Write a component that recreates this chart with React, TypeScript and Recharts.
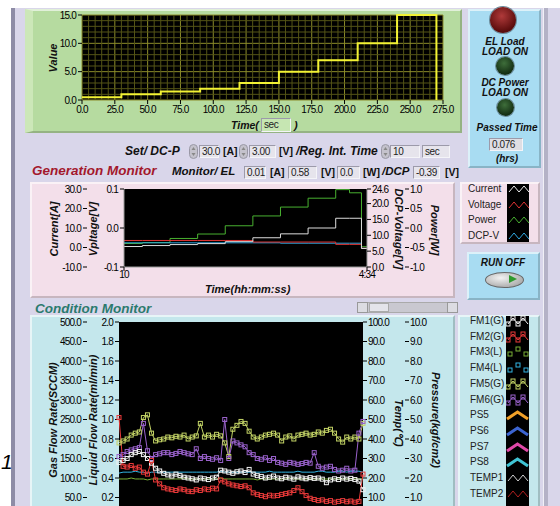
import React from 'react';
import { ComposedChart, Line, XAxis, YAxis, CartesianGrid, ReferenceLine } from 'recharts';

// ---- set-value chart (top) ----
const SET_TIME = [0, 30, 60, 90, 120, 150, 180, 210, 240, 270];
const SET_VALUE = [0.5, 1.0, 1.5, 2.0, 3.0, 5.0, 7.0, 10.0, 15.0, 0.0];
const SET_X_TICKS = [0, 25, 50, 75, 100, 125, 150, 175, 200, 225, 250, 275];
const SET_Y_TICKS = [0, 5, 10, 15];
// minor grid: every 5 s and every 1.0, skipping the major lines
const SET_X_MINOR = Array.from({ length: 56 }, (_, i) => i * 5).filter(v => v % 25 !== 0);
const SET_Y_MINOR = Array.from({ length: 16 }, (_, i) => i).filter(v => v % 5 !== 0);

// ---- generation monitor (middle) ----
const GEN_TIME = [10, 30, 60, 90, 120, 150, 180, 210, 240, 255, 268, 274];
const GEN_CURRENT = [0.5, 1.0, 1.5, 2.0, 3.0, 5.0, 7.0, 10.0, 15.0, 15.0, -0.5, -0.5];
const GEN_VOLTAGE = [-0.032, -0.032, -0.032, -0.032, -0.032, -0.036, -0.036, -0.036, -0.042, -0.042, -0.052, -0.052];
const GEN_POWER = [7.4, 7.7, 9.0, 10.4, 13.0, 16.1, 18.9, 21.7, 24.4, 23.4, 6.4, 6.4];
const GEN_DCPV = [-0.38, -0.38, -0.38, -0.38, -0.38, -0.38, -0.39, -0.39, -0.39, -0.39, -0.52, -0.52];
const CURRENT_TICKS = [-10, 0, 10, 20, 30];
const VOLTAGE_TICKS = [-0.1, 0, 0.1];
const POWER_TICKS = [0, 5, 10, 15, 20, 24.6];
const DCPV_TICKS = [-1, -0.5, 0, 0.5, 1];

// ---- condition monitor (bottom) ----
const FM1 = [140, 145, 150, 160, 165, 168, 160, 150, 138, 125, 118, 112, 108, 105, 110, 106, 102, 100, 98, 95,
  100, 98, 96, 100, 102, 120, 118, 115, 112, 116, 118, 114, 122, 110, 106, 104, 100, 102, 105, 100,
  98, 102, 100, 97, 103, 100, 98, 101, 99, 100, 97, 88, 95, 98, 96, 100, 97, 99, 96, 92, 70];
const FM2 = [255, 130, 128, 132, 125, 128, 115, 110, 145, 95, 85, 75, 72, 70, 68, 72, 70, 66, 65, 70,
  68, 72, 70, 74, 72, 95, 90, 85, 82, 80, 78, 80, 75, 62, 58, 55, 52, 56, 54, 55,
  58, 60, 62, 68, 75, 65, 55, 48, 45, 42, 44, 40, 42, 38, 40, 42, 39, 41, 38, 40, 110];
const FM3 = [0.39, 0.39, 0.39, 0.40, 0.39, 0.39, 0.39, 0.38, 0.39, 0.39, 0.39, 0.39, 0.39, 0.39, 0.39, 0.39, 0.40, 0.39, 0.39, 0.39,
  0.39, 0.39, 0.39, 0.39, 0.39, 0.40, 0.39, 0.39, 0.39, 0.39, 0.39, 0.39, 0.39, 0.39, 0.38, 0.39, 0.39, 0.39, 0.39, 0.39,
  0.39, 0.39, 0.40, 0.39, 0.39, 0.39, 0.39, 0.39, 0.39, 0.39, 0.39, 0.39, 0.39, 0.39, 0.39, 0.39, 0.39, 0.39, 0.39, 0.39, 0.39];
const FM4 = [0.45, 0.46, 0.46, 0.46, 0.47, 0.46, 0.46, 0.45, 0.46, 0.46, 0.46, 0.46, 0.46, 0.46, 0.46, 0.46, 0.46, 0.46, 0.46, 0.46,
  0.46, 0.46, 0.46, 0.46, 0.46, 0.47, 0.46, 0.46, 0.46, 0.46, 0.46, 0.46, 0.46, 0.46, 0.46, 0.46, 0.46, 0.47, 0.46, 0.46,
  0.46, 0.46, 0.46, 0.46, 0.47, 0.46, 0.46, 0.46, 0.46, 0.47, 0.47, 0.46, 0.46, 0.46, 0.47, 0.47, 0.46, 0.47, 0.47, 0.47, 0.46];
const FM5 = [190, 195, 200, 210, 215, 218, 255, 262, 215, 195, 198, 200, 205, 203, 207, 205, 210, 200, 205, 208,
  240, 205, 210, 205, 212, 208, 190, 155, 225, 235, 245, 240, 220, 205, 200, 205, 210, 212, 215, 210,
  195, 205, 208, 200, 210, 212, 215, 210, 212, 218, 215, 222, 225, 215, 200, 192, 205, 200, 205, 200, 240];
const FM6 = [155, 160, 168, 172, 175, 178, 240, 170, 150, 160, 162, 165, 165, 160, 163, 168, 165, 162, 160, 175,
  150, 155, 150, 148, 152, 145, 250, 150, 195, 190, 185, 180, 165, 160, 150, 148, 152, 145, 150, 140,
  138, 135, 140, 138, 135, 137, 140, 138, 165, 130, 125, 128, 130, 122, 118, 120, 125, 118, 120, 215, 245];
// the 0 ticks sit below the visible window, so only the visible ones are listed
const GAS_TICKS = [50, 100, 150, 200, 250, 300, 350, 400, 450, 500];
const LIQ_TICKS = [0.2, 0.4, 0.6, 0.8, 1.0, 1.2, 1.4, 1.6, 1.8, 2.0];
const TEMP_TICKS = [10, 20, 30, 40, 50, 60, 70, 80, 90, 100];
const PRES_TICKS = [1, 2, 3, 4, 5, 6, 7, 8, 9, 10];

const setData = SET_TIME.map((t, i) => ({ t, v: SET_VALUE[i] }));
const genData = GEN_TIME.map((t, i) => ({
  t, current: GEN_CURRENT[i], voltage: GEN_VOLTAGE[i], power: GEN_POWER[i], dcpv: GEN_DCPV[i],
}));
const condData = FM1.map((v, i) => ({
  i, fm1: v, fm2: FM2[i], fm3: FM3[i], fm4: FM4[i], fm5: FM5[i], fm6: FM6[i],
}));

const SANS = "'Liberation Sans', Arial, sans-serif";
const TICK = { fill: '#000', fontSize: 10, fontFamily: SANS, letterSpacing: -0.8 };
const f1 = (v: number) => v.toFixed(1);
const tickProps = { tick: TICK, tickSize: 4, interval: 0 as const, tickLine: { stroke: '#000' } };

const Box = ({ x, y, w, h, bg, style, children }: any) => (
  <div style={{ position: 'absolute', left: x, top: y, width: w, height: h, background: bg, boxSizing: 'border-box', ...style }}>
    {children}
  </div>
);

const Txt = ({ x, y, size = 11, bi = true, color = '#111', center = false, children, style }: any) => (
  <div style={{
    position: 'absolute', left: x, top: y, whiteSpace: 'nowrap', lineHeight: 1,
    fontSize: size, fontWeight: bi ? 700 : 400, fontStyle: bi ? 'italic' : 'normal', color,
    transform: center ? 'translate(-50%,-50%)' : 'translateY(-50%)', ...style,
  }}>{children}</div>
);

const RotTxt = ({ cx, cy, angle, size = 11, children }: any) => (
  <div style={{
    position: 'absolute', left: cx, top: cy, whiteSpace: 'nowrap', lineHeight: 1, fontSize: size,
    fontWeight: 700, fontStyle: 'italic', color: '#111', transform: `translate(-50%,-50%) rotate(${angle}deg)`,
  }}>{children}</div>
);

const NumBox = ({ x, y, w, h = 13, text, bg = '#e6e4ec' }: any) => (
  <div style={{
    position: 'absolute', left: x, top: y, width: w, height: h, background: bg, boxSizing: 'border-box',
    borderTop: '1px solid #9c9aaa', borderLeft: '1px solid #9c9aaa', borderRight: '1px solid #f4f4f8', borderBottom: '1px solid #f4f4f8',
    fontSize: 10, lineHeight: `${h - 2}px`, paddingLeft: 2, color: '#222', letterSpacing: -0.4,
  }}>{text}</div>
);

const Spin = ({ x, y }: any) => (
  <svg style={{ position: 'absolute', left: x, top: y }} width={9} height={15}>
    <rect x={0.5} y={0.5} width={8} height={14} rx={4} fill="#c4c2cc" stroke="#9a98a6" />
    <path d="M2.5 6 L4.5 3 L6.5 6 Z" fill="#888" />
    <path d="M2.5 9 L4.5 12 L6.5 9 Z" fill="#888" />
  </svg>
);

const Led = ({ cx, cy, r, c1, c2 }: any) => (
  <div style={{
    position: 'absolute', left: cx - r, top: cy - r, width: r * 2, height: r * 2, borderRadius: '50%',
    background: `radial-gradient(circle at 45% 35%, ${c1} 0%, ${c2} 70%)`, boxShadow: '0 0 0 1px #6a8a9a',
  }} />
);

const Zig = ({ color, w = 1, squares = false, onlySquares = false, chevron = false }: any) => {
  if (chevron) {
    return (
      <svg width={23} height={14}><path d="M1 11 L11.5 4 L22 11" stroke={color} strokeWidth={3} fill="none" /></svg>
    );
  }
  const pts = [[2, 10], [7, 4], [12, 10], [17, 4], [22, 10]];
  return (
    <svg width={23} height={14}>
      {!onlySquares && <polyline points={pts.map(p => p.join(',')).join(' ')} stroke={color} strokeWidth={w} fill="none" />}
      {squares && pts.slice(0, 4).map((p, k) => (
        <rect key={k} x={p[0] - 2} y={p[1] - 2} width={4} height={4} fill="none" stroke={color} />
      ))}
      {onlySquares && [[4, 9], [12, 4], [20, 9]].map((p, k) => (
        <rect key={k} x={p[0] - 2} y={p[1] - 2} width={4} height={4} fill="none" stroke={color} />
      ))}
    </svg>
  );
};

const square = (color: string) => (p: any) => (
  <rect key={`sq-${p.index}`} x={p.cx - 2} y={p.cy - 2} width={4} height={4} fill="none" stroke={color} strokeWidth={1} />
);

// y-axis ids sort so that the "a_" axis sits next to the plot and the "b_" axis outside it
const COND_SERIES = [
  { key: 'fm5', axis: 'b_gas', color: '#c4d466', sq: true },
  { key: 'fm6', axis: 'b_gas', color: '#9a62cc', sq: true },
  { key: 'fm3', axis: 'a_liq', color: '#7ab036', sq: false },
  { key: 'fm4', axis: 'a_liq', color: '#32b4e4', sq: false },
  { key: 'fm1', axis: 'b_gas', color: '#f2f2f2', sq: true },
  { key: 'fm2', axis: 'b_gas', color: '#ea3a3a', sq: true },
];

const COND_LEGEND = [
  { name: 'FM1(G)', el: <Zig color="#f2f2f2" squares /> },
  { name: 'FM2(G)', el: <Zig color="#ea3a3a" squares /> },
  { name: 'FM3(L)', el: <Zig color="#7ab036" onlySquares /> },
  { name: 'FM4(L)', el: <Zig color="#32b4e4" onlySquares /> },
  { name: 'FM5(G)', el: <Zig color="#c4d466" squares /> },
  { name: 'FM6(G)', el: <Zig color="#9a62cc" squares /> },
  { name: 'PS5', el: <Zig color="#f0a028" chevron /> },
  { name: 'PS6', el: <Zig color="#3c64d0" chevron /> },
  { name: 'PS7', el: <Zig color="#e048a8" chevron /> },
  { name: 'PS8', el: <Zig color="#40c4d4" chevron /> },
  { name: 'TEMP1', el: <Zig color="#cfcfcf" /> },
  { name: 'TEMP2', el: <Zig color="#b02020" /> },
];

const GEN_LEGEND = [
  { name: 'Current', color: '#eeeeee' },
  { name: 'Voltage', color: '#e03434' },
  { name: 'Power', color: '#48b030' },
  { name: 'DCP-V', color: '#30a8e0' },
];

const bevel = {
  borderTop: '2px solid rgba(255,255,255,0.6)', borderLeft: '2px solid rgba(255,255,255,0.6)',
  borderRight: '2px solid rgba(0,0,0,0.18)', borderBottom: '2px solid rgba(0,0,0,0.18)',
};

export default function App() {
  return (
    <div style={{ position: 'absolute', left: 0, top: 0, width: 560, height: 506, overflow: 'hidden', background: '#fff', fontFamily: SANS }}>
      {/* frame */}
      <Box x={15} y={8} w={545} h={498} bg="#d9d6ea" />
      <Box x={11} y={8} w={4} h={498} bg="#8e8ca6" />
      <Box x={543} y={8} w={5} h={498} bg="#b4b2c6" style={{ borderLeft: '1px solid #f0f0f6' }} />
      <Txt x={1} y={461} size={21} bi={false} style={{ fontStyle: 'italic', color: '#000' }}>1</Txt>

      {/* top set-value chart */}
      <Box x={25} y={9} w={437} h={124} bg="#b6dba0" style={{ ...bevel, borderLeft: '8px solid #cce7b8' }} />
      <div style={{ position: 'absolute', left: 25, top: 9 }}>
        <ComposedChart width={437} height={124} data={setData} margin={{ top: 6, right: 19, bottom: 0, left: 0 }}>
          <XAxis dataKey="t" type="number" domain={[0, 275]} ticks={SET_X_TICKS} tickFormatter={f1}
            height={33} tickMargin={2} axisLine={false} {...tickProps} />
          <YAxis type="number" domain={[0, 15]} ticks={SET_Y_TICKS} tickFormatter={f1} width={57}
            tickMargin={2} axisLine={false} {...tickProps} />
          <CartesianGrid stroke="#8c8c2a" fill="#000" />
          {SET_X_MINOR.map(v => <ReferenceLine key={`mx${v}`} x={v} stroke="#545416" />)}
          {SET_Y_MINOR.map(v => <ReferenceLine key={`my${v}`} y={v} stroke="#545416" />)}
          <Line type="stepAfter" dataKey="v" stroke="#f2f234" strokeWidth={2} dot={false} activeDot={false} isAnimationActive={false} />
        </ComposedChart>
      </div>
      <RotTxt cx={53} cy={58} angle={-90}>Value</RotTxt>
      <Txt x={231} y={125} size={10.5}>Time(</Txt>
      <NumBox x={261} y={118} w={30} h={14} text="sec" bg="#c6e6b2" />
      <Txt x={294} y={125}>)</Txt>

      {/* right status panel */}
      <Box x={468} y={9} w={73} h={159} bg="#a8dcf2" style={{ ...bevel }} />
      <Led cx={503} cy={20} r={13} c1="#b03a3a" c2="#5a0c0c" />
      <Txt x={505} y={42} size={10} center>EL Load</Txt>
      <Txt x={505} y={52} size={10} center>LOAD ON</Txt>
      <Led cx={505} cy={66} r={9} c1="#3e6e3a" c2="#142e14" />
      <Txt x={505} y={83} size={10} center>DC Power</Txt>
      <Txt x={505} y={93} size={10} center>LOAD ON</Txt>
      <Led cx={505} cy={107} r={8.5} c1="#3e6e3a" c2="#142e14" />
      <Txt x={507} y={128} size={10} center>Passed Time</Txt>
      <NumBox x={489} y={138} w={34} h={13} text="0.076" bg="#dedee4" />
      <Txt x={507} y={159} size={10} center>(hrs)</Txt>

      {/* control rows */}
      <Txt x={125} y={151} size={12}>Set/ DC-P</Txt>
      <Spin x={189} y={144} />
      <NumBox x={199} y={145} w={20} text="30.0" />
      <Txt x={223} y={151} size={10.5} bi={false} style={{ fontWeight: 700 }}>[A]</Txt>
      <Spin x={239} y={144} />
      <NumBox x={249} y={145} w={27} text="3.00" />
      <Txt x={279} y={151} size={10.5} bi={false} style={{ fontWeight: 700 }}>[V]</Txt>
      <Txt x={296} y={151} size={12}>/Reg. Int. Time</Txt>
      <Spin x={381} y={144} />
      <NumBox x={390} y={145} w={30} text="10" />
      <NumBox x={422} y={145} w={28} text="sec" />

      <Txt x={32} y={171} size={13.5} color="#a3182c">Generation Monitor</Txt>
      <Txt x={172} y={172} size={11.5}>Monitor/ EL</Txt>
      <NumBox x={244} y={166} w={22} text="0.01" />
      <Txt x={270} y={172} size={10.5} bi={false} style={{ fontWeight: 700 }}>[A]</Txt>
      <NumBox x={288} y={166} w={29} text="0.58" />
      <Txt x={321} y={172} size={10.5} bi={false} style={{ fontWeight: 700 }}>[V]</Txt>
      <NumBox x={337} y={166} w={23} text="0.0" />
      <Txt x={363} y={172} size={10.5} bi={false} style={{ fontWeight: 700 }}>[W]</Txt>
      <Txt x={382} y={172} size={11.5}>/DCP</Txt>
      <NumBox x={413} y={166} w={27} text="-0.39" />
      <Txt x={445} y={172} size={10.5} bi={false} style={{ fontWeight: 700 }}>[V]</Txt>

      {/* generation monitor chart */}
      <Box x={30} y={182} w={425} h={116} bg="#f3dfea" style={{ ...bevel }} />
      <div style={{ position: 'absolute', left: 30, top: 182 }}>
        <ComposedChart width={425} height={116} data={genData} margin={{ top: 7, right: 0, bottom: 0, left: 0 }}>
          <CartesianGrid fill="#000" stroke="none" horizontal={false} vertical={false} />
          <XAxis dataKey="t" type="number" domain={[10, 274]} ticks={[10, 274]} height={31}
            tickFormatter={(v: number) => (v === 10 ? '10' : '4:34')} tickMargin={0}
            axisLine={{ stroke: '#9a9a9a' }} {...tickProps} />
          <YAxis yAxisId="a_v" type="number" domain={[-0.1, 0.1]} ticks={VOLTAGE_TICKS} tickFormatter={f1} width={37}
            tickMargin={2} axisLine={{ stroke: '#9a9a9a' }} {...tickProps} />
          <YAxis yAxisId="b_i" type="number" domain={[-10, 30]} ticks={CURRENT_TICKS} tickFormatter={f1} width={57}
            tickMargin={2} axisLine={false} {...tickProps} />
          <YAxis yAxisId="a_p" orientation="right" type="number" domain={[0, 24.6]} ticks={POWER_TICKS} tickFormatter={f1} width={38}
            tickMargin={1} axisLine={{ stroke: '#9a9a9a' }} {...tickProps} />
          <YAxis yAxisId="b_d" orientation="right" type="number" domain={[-1, 1]} ticks={DCPV_TICKS} tickFormatter={f1} width={50}
            tickMargin={1} axisLine={false} {...tickProps} />
          <Line yAxisId="a_p" type="stepAfter" dataKey="power" stroke="#48b030" strokeWidth={1} dot={false} activeDot={false} isAnimationActive={false} />
          <Line yAxisId="b_d" type="stepAfter" dataKey="dcpv" stroke="#30a8e0" strokeWidth={1} dot={false} activeDot={false} isAnimationActive={false} />
          <Line yAxisId="a_v" type="stepAfter" dataKey="voltage" stroke="#e03434" strokeWidth={1} dot={false} activeDot={false} isAnimationActive={false} />
          <Line yAxisId="b_i" type="stepAfter" dataKey="current" stroke="#dcdcdc" strokeWidth={1} dot={false} activeDot={false} isAnimationActive={false} />
        </ComposedChart>
      </div>
      <RotTxt cx={54} cy={229} angle={-90}>Current[A]</RotTxt>
      <RotTxt cx={93} cy={229} angle={-90}>Vpltage[V]</RotTxt>
      <RotTxt cx={398} cy={229} angle={90}>DCP-Voltage[V]</RotTxt>
      <RotTxt cx={434} cy={230} angle={90}>Power[W]</RotTxt>
      <Txt x={205} y={289}>Time(hh:mm:ss)</Txt>

      {/* generation legend */}
      <Box x={460} y={182} w={80} h={62} bg="#f3dfea" style={{ ...bevel }} />
      <Box x={507} y={184} w={22} h={58} bg="#000" />
      {GEN_LEGEND.map((g, k) => (
        <React.Fragment key={g.name}>
          <Txt x={468} y={189 + k * 15.5} size={10} bi={false} color="#222">{g.name}</Txt>
          <div style={{ position: 'absolute', left: 507, top: 182 + k * 15.5 }}><Zig color={g.color} /></div>
        </React.Fragment>
      ))}

      {/* run button */}
      <Box x={467} y={252} w={73} h={48} bg="#a8dcf2" style={{ ...bevel }} />
      <Txt x={503} y={263} size={10} center>RUN OFF</Txt>
      <div style={{
        position: 'absolute', left: 485, top: 272, width: 37, height: 14, borderRadius: '50%',
        background: 'radial-gradient(ellipse at 40% 35%, #f2f2f2 0%, #a8a8a8 80%)', border: '1px solid #666',
      }} />
      <svg style={{ position: 'absolute', left: 508, top: 274 }} width={10} height={10}>
        <path d="M1 1 L9 5 L1 9 Z" fill="#2f9a2f" />
      </svg>

      {/* scrollbar */}
      <Box x={357} y={302} w={101} h={11} bg="#c9c8d0" style={{ border: '1px solid #aaa' }} />
      <Box x={357} y={302} w={11} h={11} bg="#dcdce2" style={{ border: '1px solid #999' }} />
      <Box x={369} y={303} w={20} h={9} bg="#e4e4ea" style={{ border: '1px solid #aaa' }} />
      <Box x={447} y={302} w={11} h={11} bg="#dcdce2" style={{ border: '1px solid #999' }} />

      {/* condition monitor chart */}
      <Txt x={35} y={309} size={13.5} color="#2b7a6e">Condition Monitor</Txt>
      <Box x={30} y={315} w={425} h={200} bg="#c4e7ec" style={{ ...bevel }} />
      <div style={{ position: 'absolute', left: 30, top: 315 }}>
        <ComposedChart width={425} height={212} data={condData} margin={{ top: 7, right: 0, bottom: 10, left: 0 }}>
          <CartesianGrid fill="#000" stroke="none" horizontal={false} vertical={false} />
          <XAxis dataKey="i" type="number" domain={[0, 60]} hide />
          <YAxis yAxisId="a_liq" type="number" domain={[0, 2]} ticks={LIQ_TICKS} tickFormatter={f1} width={32}
            tickMargin={2} axisLine={false} {...tickProps} />
          <YAxis yAxisId="b_gas" type="number" domain={[0, 500]} ticks={GAS_TICKS} tickFormatter={f1} width={57}
            tickMargin={2} axisLine={false} {...tickProps} />
          <YAxis yAxisId="a_temp" orientation="right" type="number" domain={[0, 100]} allowDataOverflow ticks={TEMP_TICKS} tickFormatter={f1} width={42}
            tickMargin={1} axisLine={false} {...tickProps} />
          <YAxis yAxisId="b_pres" orientation="right" type="number" domain={[0, 10]} allowDataOverflow ticks={PRES_TICKS} tickFormatter={f1} width={50}
            tickMargin={1} axisLine={false} {...tickProps} />
          {COND_SERIES.map(s => (
            <Line key={s.key} yAxisId={s.axis} type="linear" dataKey={s.key} stroke={s.color} strokeWidth={1}
              dot={s.sq ? square(s.color) : false} activeDot={false} isAnimationActive={false} />
          ))}
        </ComposedChart>
      </div>
      <RotTxt cx={53} cy={420} angle={-90}>Gas Flow Rate(SCCM)</RotTxt>
      <RotTxt cx={93} cy={420} angle={-90}>Liquid Flow Rate(ml/min)</RotTxt>
      <RotTxt cx={398} cy={423} angle={90}>Temp(℃)</RotTxt>
      <RotTxt cx={435} cy={420} angle={90}>Pressure(kgf/cm2)</RotTxt>

      {/* condition legend */}
      <Box x={458} y={315} w={82} h={200} bg="#c4e7ec" style={{ ...bevel }} />
      <Box x={506} y={316} w={23} h={200} bg="#000" />
      {COND_LEGEND.map((c, k) => (
        <React.Fragment key={c.name}>
          <Txt x={470} y={321 + k * 15.7} size={10} bi={false} color="#222">{c.name}</Txt>
          <div style={{ position: 'absolute', left: 506, top: 314 + k * 15.7 }}>{c.el}</div>
        </React.Fragment>
      ))}
    </div>
  );
}
